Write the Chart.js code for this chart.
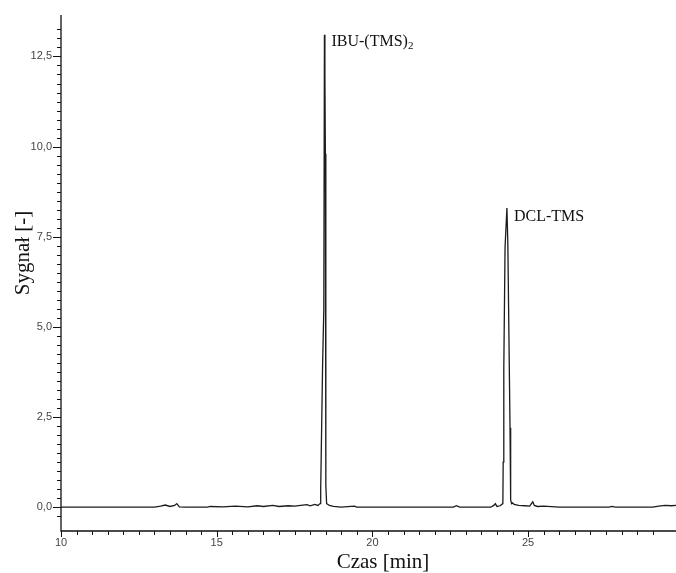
<!DOCTYPE html>
<html><head><meta charset="utf-8">
<script src="https://cdn.jsdelivr.net/npm/chart.js@4/dist/chart.umd.min.js"></script>
<style>html,body{margin:0;padding:0;background:#fff}#wrap{width:676px;height:573px;position:relative}</style>
</head><body><div id="wrap"><canvas id="c" width="676" height="573"></canvas></div>
<script>
// Retention time [min]
const timeMin = [10.0, 13.0, 13.2, 13.35, 13.5, 13.65, 13.72, 13.8, 14.0, 14.7, 14.8, 15.2, 15.6, 16.0, 16.3, 16.5, 16.8, 17.0, 17.3, 17.5, 17.7, 17.9, 18.0, 18.15, 18.25, 18.32,
  18.34, 18.40, 18.44, 18.46, 18.475, 18.49, 18.50, 18.51, 18.53, 18.56, 18.62, 18.75, 19.0, 19.42, 19.5, 21.0, 22.6, 22.7, 22.8, 23.8, 23.9, 23.95, 24.0, 24.1, 24.19,
  24.20, 24.22, 24.26, 24.32, 24.35, 24.42, 24.44, 24.47, 24.5, 24.55, 24.7, 24.9, 25.05, 25.15, 25.2, 25.3, 25.5, 26.0, 27.6, 27.7, 27.8, 29.0, 29.2, 29.4, 29.6, 29.75];
// Detector signal [-]
const signal = [0, 0, 0.03, 0.06, 0.02, 0.05, 0.1, 0.01, 0, 0, 0.02, 0.01, 0.03, 0.01, 0.04, 0.02, 0.05, 0.02, 0.04, 0.03, 0.05, 0.07, 0.04, 0.08, 0.05, 0.1,
  0.5, 3.9, 5.5, 13.1, 12.0, 9.8, 2.0, 0.6, 0.1, 0.08, 0.05, 0.02, 0, 0.03, 0, 0, 0, 0.04, 0, 0, 0.05, 0.1, 0.02, 0.04, 0.1,
  1.25, 3.85, 7.2, 8.3, 7.3, 2.2, 0.2, 0.1, 0.12, 0.08, 0.05, 0.04, 0.03, 0.15, 0.05, 0.02, 0.03, 0, 0, 0.02, 0, 0, 0.03, 0.05, 0.04, 0.05];
// Peak annotations
const peakTimes = [18.46, 24.32];
const peakSignals = [13.1, 8.3];
const peakNames = ['IBU-(TMS)', 'DCL-TMS'];
const peakSubscripts = ['2', ''];
const xTitle = 'Czas [min]';
const yTitle = 'Sygnał [-]';
const xRange = [10, 29.75];
const yRange = [-0.66, 13.65];

const isMult = (v, s) => Math.abs(v / s - Math.round(v / s)) < 1e-6;

const decor = {
  id: 'decor',
  afterDraw(chart) {
    const ctx = chart.ctx, xs = chart.scales.x, ys = chart.scales.y, a = chart.chartArea;
    ctx.save();
    ctx.strokeStyle = '#111';
    ctx.lineWidth = 1.3;
    ctx.beginPath();
    ctx.moveTo(a.left, a.top); ctx.lineTo(a.left, a.bottom); ctx.lineTo(a.right, a.bottom);
    ctx.stroke();
    ctx.lineWidth = 1;
    ctx.beginPath();
    ys.ticks.forEach(t => {
      if (!isMult(t.value, 0.25)) return;
      const y = Math.round(ys.getPixelForValue(t.value)) + 0.5;
      const len = isMult(t.value, 2.5) ? 8 : 4;
      ctx.moveTo(a.left, y); ctx.lineTo(a.left - len, y);
    });
    xs.ticks.forEach(t => {
      if (!isMult(t.value, 0.5)) return;
      const x = Math.round(xs.getPixelForValue(t.value)) + 0.5;
      const len = isMult(t.value, 5) ? 6 : 4;
      ctx.moveTo(x, a.bottom); ctx.lineTo(x, a.bottom + len);
    });
    ctx.stroke();
    // axis titles
    ctx.fillStyle = '#111';
    ctx.font = '21px "Liberation Serif"';
    ctx.textAlign = 'center';
    ctx.textBaseline = 'alphabetic';
    ctx.fillText(xTitle, 383, 568);
    ctx.save();
    ctx.translate(29, 253);
    ctx.rotate(-Math.PI / 2);
    ctx.fillText(yTitle, 0, 0);
    ctx.restore();
    // peak labels
    ctx.textAlign = 'left';
    peakTimes.forEach((t, i) => {
      const px = xs.getPixelForValue(t) + 7;
      const py = ys.getPixelForValue(peakSignals[i]) + 11 + (i === 1 ? 2 : 0);
      ctx.font = '16px "Liberation Serif"';
      ctx.fillText(peakNames[i], px, py);
      if (peakSubscripts[i]) {
        const w = ctx.measureText(peakNames[i]).width;
        ctx.font = '11px "Liberation Serif"';
        ctx.fillText(peakSubscripts[i], px + w, py + 3);
      }
    });
    ctx.restore();
  }
};

new Chart(document.getElementById('c'), {
  type: 'line',
  data: {
    datasets: [{
      data: timeMin.map((t, i) => ({x: t, y: signal[i]})),
      borderColor: '#1c1c1c',
      borderWidth: 1.3,
      pointRadius: 0,
      pointHoverRadius: 0,
      tension: 0,
      fill: false
    }]
  },
  options: {
    responsive: false,
    animation: false,
    devicePixelRatio: 1,
    layout: {autoPadding: false, padding: {left: 0, top: 15, right: 0, bottom: 0}},
    plugins: {legend: {display: false}, tooltip: {enabled: false}},
    scales: {
      x: {
        type: 'linear', position: 'bottom', min: xRange[0], max: xRange[1],
        grid: {display: false, drawTicks: false}, border: {display: false},
        ticks: {stepSize: 0.5, autoSkip: false, maxRotation: 0, padding: 5, color: '#444',
          font: {family: 'Liberation Sans', size: 11},
          callback: v => isMult(v, 5) ? String(v) : ''},
        afterFit: s => { s.height = 42; s.paddingLeft = 0; s.paddingRight = 0; }
      },
      y: {
        type: 'linear', position: 'left', min: yRange[0], max: yRange[1],
        grid: {display: false, drawTicks: false}, border: {display: false},
        ticks: {stepSize: 0.25, autoSkip: false, padding: 9, color: '#444',
          font: {family: 'Liberation Sans', size: 11},
          callback: v => isMult(v, 2.5) ? v.toFixed(1).replace('.', ',') : ''},
        afterFit: s => { s.width = 61; s.paddingTop = 0; s.paddingBottom = 0; }
      }
    }
  },
  plugins: [decor]
});
</script>
</body></html>
